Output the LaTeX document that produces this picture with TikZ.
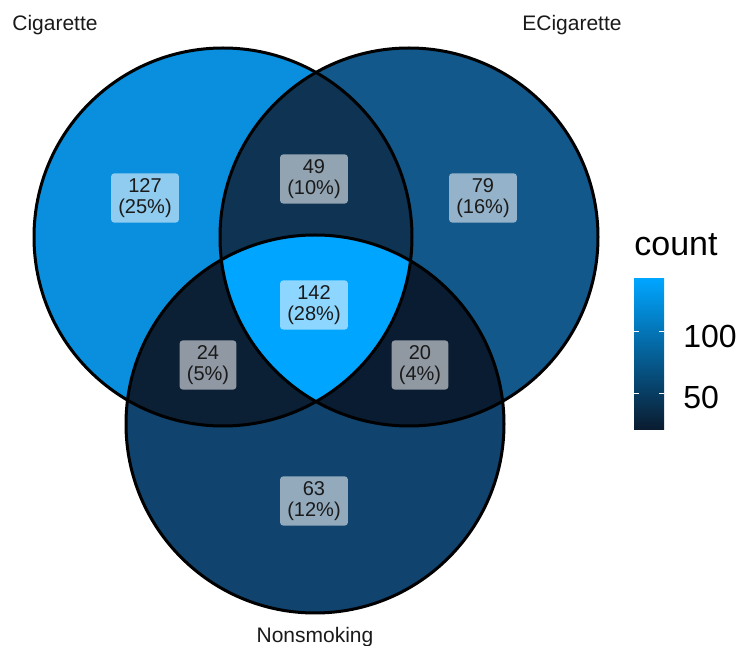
\documentclass[tikz,border=0pt]{standalone}
\usepackage{fontspec}
\setmainfont{Liberation Sans}
\definecolor{lowblue}{HTML}{0A1B2F}
\definecolor{highblue}{HTML}{00A5FF}
\definecolor{labeltext}{HTML}{1A1A1A}
\definecolor{only127}{HTML}{098FDD}
\definecolor{only79}{HTML}{13588A}
\definecolor{only63}{HTML}{10436D}
\definecolor{both49}{HTML}{0E3353}
\definecolor{both24}{HTML}{0B1F35}
\definecolor{both20}{HTML}{0A1C31}
\colorlet{all142}{highblue}
\def\vennr{94.5pt}

\begin{document}
\begin{tikzpicture}[
  x=0.5pt, y=-0.5pt,
  venn/.style={draw=black, line width=1.5pt},
  setlabel/.style={fill=white, fill opacity=0.55, text opacity=1, text=labeltext, rounded corners=1.5pt, align=center, inner xsep=3.6pt, inner ysep=2.5pt, font=\fontsize{10}{10.5}\selectfont},
  settitle/.style={text=labeltext, font=\fontsize{10.5}{12}\selectfont},
  legendtext/.style={text=black, anchor=west, inner sep=0pt}
]
    \useasboundingbox (0,0) rectangle (740,646);

    % Set centres
    \coordinate (cig) at (223,237);
    \coordinate (ecig) at (409,237);
    \coordinate (nonsmk) at (315,424);

    % Single sets
    \fill[only127] (cig) circle[radius=\vennr];
    \fill[only79] (ecig) circle[radius=\vennr];
    \fill[only63] (nonsmk) circle[radius=\vennr];

    % Overlaps
    \begin{scope}
      \clip (cig) circle[radius=\vennr];
      \fill[both49] (ecig) circle[radius=\vennr];
      \fill[both24] (nonsmk) circle[radius=\vennr];
      \clip (ecig) circle[radius=\vennr];
      \fill[all142] (nonsmk) circle[radius=\vennr];
    \end{scope}
    \begin{scope}
      \clip (ecig) circle[radius=\vennr];
      \clip (nonsmk) circle[radius=\vennr];
      \fill[both20] (nonsmk) circle[radius=\vennr];
      \clip (cig) circle[radius=\vennr];
      \fill[all142] (nonsmk) circle[radius=\vennr];
    \end{scope}

    % Outlines
    \draw[venn] (cig) circle[radius=\vennr];
    \draw[venn] (ecig) circle[radius=\vennr];
    \draw[venn] (nonsmk) circle[radius=\vennr];

    % Region counts
    \node[setlabel] (ncig) at (145,198) {127\\(25\%)};
    \node[setlabel] (ncigecig) at (314,179) {49\\(10\%)};
    \node[setlabel] (necig) at (483,198) {79\\(16\%)};
    \node[setlabel] (nall) at (314,305) {142\\(28\%)};
    \node[setlabel] (ncignon) at (208,365) {24\\(5\%)};
    \node[setlabel] (necignon) at (420,365) {20\\(4\%)};
    \node[setlabel] (nnon) at (314,501) {63\\(12\%)};

    % Set names
    \node[settitle] (tcig) at (55,25) {Cigarette};
    \node[settitle] (tecig) at (572,25) {ECigarette};
    \node[settitle] (tnon) at (315,637) {Nonsmoking};

    % Legend
    \node[legendtext, font=\fontsize{17}{20}\selectfont] (legtitle) at (634,245) {count};
    \shade[bottom color=lowblue, top color=highblue] (634,279) rectangle (664,430);
    \foreach \ty in {331,393} {
      \draw[white, line width=0.4pt] (634,\ty) -- ++(5,0);
      \draw[white, line width=0.4pt] (664,\ty) -- ++(-5,0);
    }
    \node[legendtext, font=\fontsize{16}{18}\selectfont] (tick100) at (683,336) {100};
    \node[legendtext, font=\fontsize{16}{18}\selectfont] (tick50) at (683,397) {50};
\end{tikzpicture}
\end{document}
